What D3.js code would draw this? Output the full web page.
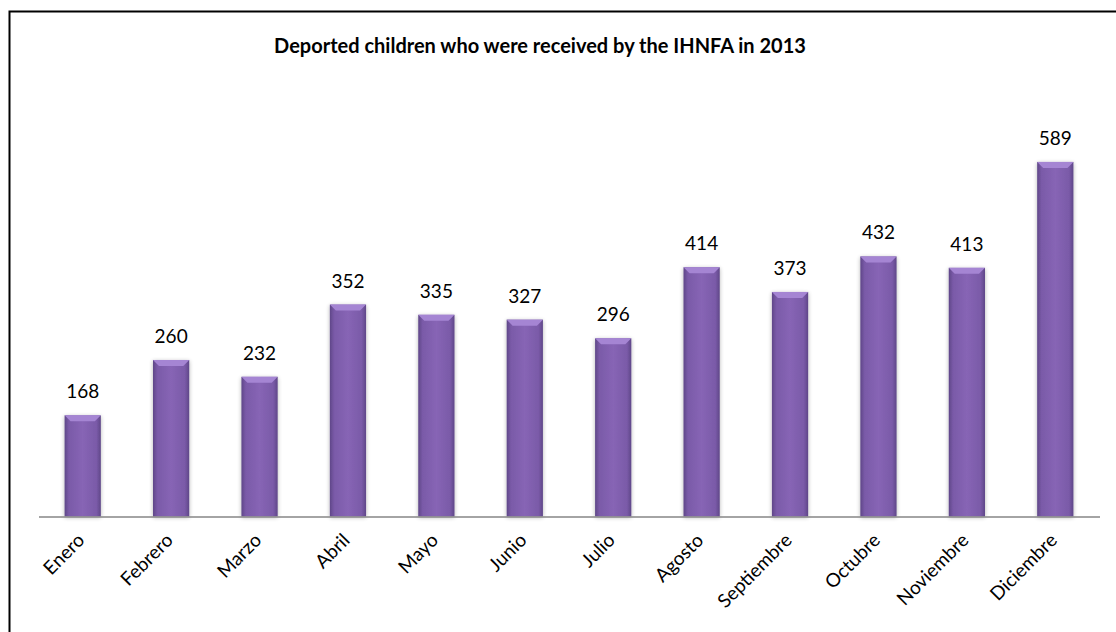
<!DOCTYPE html>
<html><head><meta charset="utf-8">
<script src="https://cdn.jsdelivr.net/npm/d3@7"></script>
<style>body{margin:0;background:#fff}svg{display:block}</style>
</head><body>
<script>
const title = "Deported children who were received by the IHNFA in 2013";
const months = ["Enero","Febrero","Marzo","Abril","Mayo","Junio","Julio","Agosto","Septiembre","Octubre","Noviembre","Diciembre"];
const values = [168,260,232,352,335,327,296,414,373,432,413,589];

const W = 1116, H = 632;
const svg = d3.select("body").append("svg").attr("width", W).attr("height", H);
const defs = svg.append("defs");
const g1 = defs.append("linearGradient").attr("id","barg").attr("x1","0").attr("x2","1").attr("y1","0").attr("y2","0");
g1.append("stop").attr("offset","0").attr("stop-color","#5f4788");
g1.append("stop").attr("offset","0.12").attr("stop-color","#7a5aa8");
g1.append("stop").attr("offset","0.5").attr("stop-color","#8765b5");
g1.append("stop").attr("offset","0.88").attr("stop-color","#7a5aa8");
g1.append("stop").attr("offset","1").attr("stop-color","#5f4788");
const f = defs.append("filter").attr("id","sh").attr("x","-30%").attr("y","-10%").attr("width","160%").attr("height","120%");
f.append("feGaussianBlur").attr("in","SourceAlpha").attr("stdDeviation","2");
f.append("feOffset").attr("dx","0").attr("dy","1").attr("result","b");
f.append("feComponentTransfer").append("feFuncA").attr("type","linear").attr("slope","0.3");
const m = f.append("feMerge"); m.append("feMergeNode"); m.append("feMergeNode").attr("in","SourceGraphic");

// frame
svg.append("rect").attr("x",9.5).attr("y",11.5).attr("width",W).attr("height",H).attr("fill","none").attr("stroke","#000").attr("stroke-width",2);

const font = "Lato, 'Open Sans', sans-serif";
svg.append("text").attr("x",540).attr("y",53).attr("text-anchor","middle")
  .attr("font-family",font).attr("font-weight","bold").attr("font-size",20).text(title);

const x = d3.scaleBand().domain(months).range([38.5,1099.5]).paddingInner(0.59).paddingOuter(0.295);
const y = d3.scaleLinear().domain([0,700]).range([516.5, 516.5-700*0.602]);

const bars = svg.append("g").selectAll("g").data(months).join("g");
bars.append("rect").attr("x",d=>x(d)).attr("width",x.bandwidth())
  .attr("y",(d,i)=>y(values[i])).attr("height",(d,i)=>y(0)-y(values[i]))
  .attr("fill","url(#barg)").attr("filter","url(#sh)");
// top bevel
bars.append("polygon").attr("points",(d,i)=>{
  const x0=x(d), x1=x0+x.bandwidth(), t=y(values[i]), b=6;
  return `${x0},${t} ${x1},${t} ${x1-b},${t+b} ${x0+b},${t+b}`;
}).attr("fill","#a585d3");
bars.append("text").attr("x",d=>x(d)+x.bandwidth()/2).attr("y",(d,i)=>y(values[i])-17)
  .attr("text-anchor","middle").attr("font-family",font).attr("font-size",19).attr("fill","#000")
  .text((d,i)=>values[i]);

const ax = svg.append("g").attr("transform","translate(0,516.5)")
  .call(d3.axisBottom(x).tickSize(0).tickPadding(0));
ax.select(".domain").attr("stroke","#868686").attr("stroke-width",1.5);
ax.selectAll("text").attr("font-family",font).attr("font-size",19).attr("fill","#000")
  .attr("text-anchor","end").attr("dy",null).attr("y",0)
  .attr("transform","translate(3,25) rotate(-45)");
</script>
</body></html>
